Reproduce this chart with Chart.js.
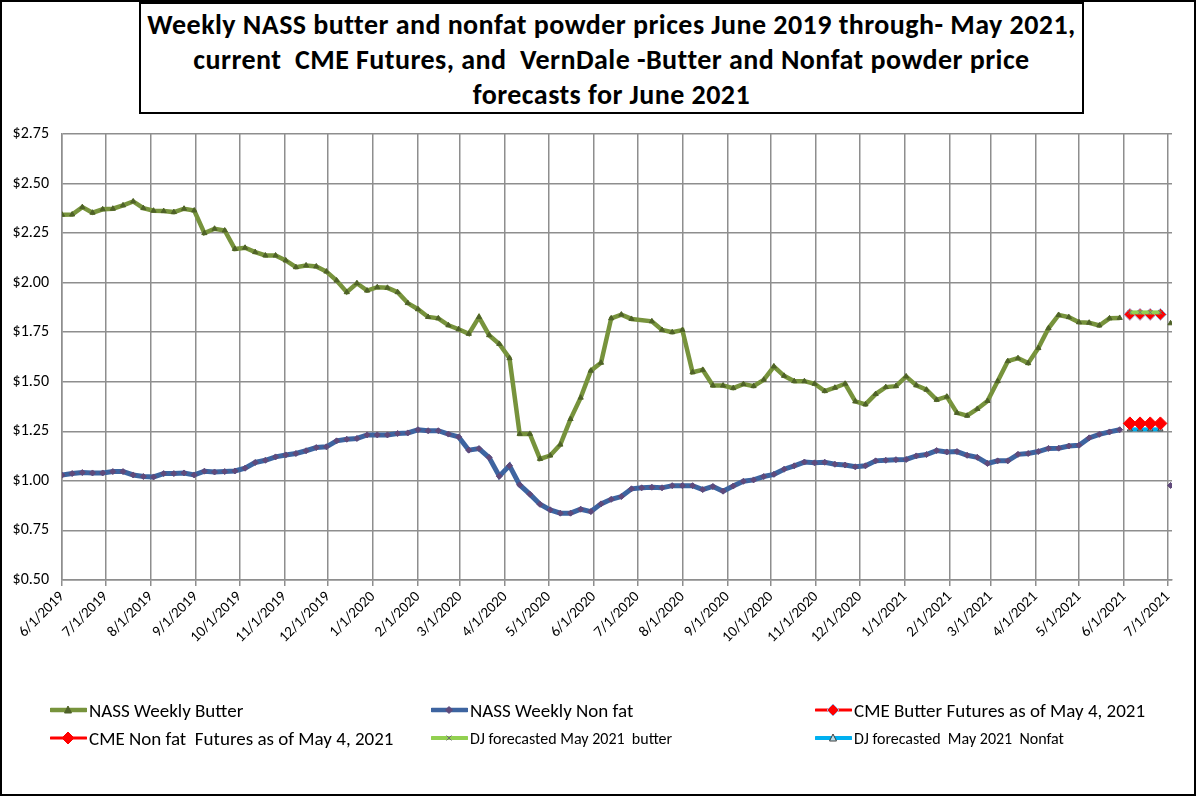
<!DOCTYPE html>
<html>
<head>
<meta charset="utf-8">
<script src="https://cdn.jsdelivr.net/npm/chart.js@4.4.0/dist/chart.umd.min.js"></script>
<style>
  html, body { margin: 0; padding: 0; background: #fff; }
  #frame { position: relative; width: 1196px; height: 796px; overflow: hidden;
           font-family: Carlito, Calibri, Lato, sans-serif; color: #000; }
  #box { position: absolute; left: 0; top: 0; width: 1196px; height: 796px; }
  #border { position: absolute; left: 0; top: 0; width: 1196px; height: 796px;
            box-sizing: border-box; border: 2px solid #000; pointer-events: none; }
  #title { position: absolute; left: 139px; top: 2px; width: 945px; height: 112px;
           box-sizing: border-box; border: 2px solid #000; background: #fff;
           text-align: center; font-weight: bold; font-size: 28px; line-height: 35px;
           letter-spacing: 0.45px; padding-top: 3px; white-space: pre; }
  .leg { position: absolute; display: flex; align-items: center; white-space: pre;
         font-size: 19px; height: 22px; }
  .leg svg { margin-right: 2px; }
  .small { font-size: 16px; }
</style>
</head>
<body>
<div id="frame">
  <div id="box"><canvas id="grafico"></canvas></div>
  <div id="title">Weekly NASS butter and nonfat powder prices June 2019 through- May 2021,
current  CME Futures, and  VernDale -Butter and Nonfat powder price
forecasts for June 2021</div>
  <div id="legend"></div>
  <div id="border"></div>
</div>
<script>
// month labels on the date axis
const monthTicks = ['6/1/2019', '7/1/2019', '8/1/2019', '9/1/2019', '10/1/2019', '11/1/2019',
  '12/1/2019', '1/1/2020', '2/1/2020', '3/1/2020', '4/1/2020', '5/1/2020', '6/1/2020',
  '7/1/2020', '8/1/2020', '9/1/2020', '10/1/2020', '11/1/2020', '12/1/2020', '1/1/2021',
  '2/1/2021', '3/1/2021', '4/1/2021', '5/1/2021', '6/1/2021', '7/1/2021'];

// NASS weekly report dates
const weeks = [
  '2019-06-01', '2019-06-08', '2019-06-15', '2019-06-22', '2019-06-29', '2019-07-06', '2019-07-13',
  '2019-07-20', '2019-07-27', '2019-08-03', '2019-08-10', '2019-08-17', '2019-08-24', '2019-08-31',
  '2019-09-07', '2019-09-14', '2019-09-21', '2019-09-28', '2019-10-05', '2019-10-12', '2019-10-19',
  '2019-10-26', '2019-11-02', '2019-11-09', '2019-11-16', '2019-11-23', '2019-11-30', '2019-12-07',
  '2019-12-14', '2019-12-21', '2019-12-28', '2020-01-04', '2020-01-11', '2020-01-18', '2020-01-25',
  '2020-02-01', '2020-02-08', '2020-02-15', '2020-02-22', '2020-02-29', '2020-03-07', '2020-03-14',
  '2020-03-21', '2020-03-28', '2020-04-04', '2020-04-11', '2020-04-18', '2020-04-25', '2020-05-02',
  '2020-05-09', '2020-05-16', '2020-05-23', '2020-05-30', '2020-06-06', '2020-06-13', '2020-06-20',
  '2020-06-27', '2020-07-04', '2020-07-11', '2020-07-18', '2020-07-25', '2020-08-01', '2020-08-08',
  '2020-08-15', '2020-08-22', '2020-08-29', '2020-09-05', '2020-09-12', '2020-09-19', '2020-09-26',
  '2020-10-03', '2020-10-10', '2020-10-17', '2020-10-24', '2020-10-31', '2020-11-07', '2020-11-14',
  '2020-11-21', '2020-11-28', '2020-12-05', '2020-12-12', '2020-12-19', '2020-12-26', '2021-01-02',
  '2021-01-09', '2021-01-16', '2021-01-23', '2021-01-30', '2021-02-06', '2021-02-13', '2021-02-20',
  '2021-02-27', '2021-03-06', '2021-03-13', '2021-03-20', '2021-03-27', '2021-04-03', '2021-04-10',
  '2021-04-17', '2021-04-24', '2021-05-01', '2021-05-08', '2021-05-15', '2021-05-22', '2021-05-29',
  '2021-07-03'];

const butter = [
  2.343, 2.344, 2.381, 2.353, 2.370, 2.373, 2.390, 2.410, 2.376, 2.363, 2.361, 2.356, 2.373, 2.364,
  2.250, 2.272, 2.263, 2.170, 2.176, 2.154, 2.137, 2.137, 2.112, 2.078, 2.087, 2.082, 2.056, 2.011,
  1.952, 1.997, 1.960, 1.977, 1.974, 1.952, 1.897, 1.866, 1.827, 1.820, 1.785, 1.765, 1.742, 1.826,
  1.735, 1.691, 1.619, 1.237, 1.237, 1.111, 1.128, 1.183, 1.312, 1.420, 1.556, 1.596, 1.820, 1.839,
  1.817, null, 1.805, 1.761, 1.750, 1.761, 1.548, 1.560, 1.481, 1.481, 1.468, 1.488, 1.478, 1.510,
  1.577, 1.530, 1.503, 1.503, 1.490, 1.453, 1.470, 1.490, 1.401, 1.386, 1.438, 1.473, 1.478, 1.527,
  1.482, 1.460, 1.409, 1.425, 1.343, 1.329, 1.363, 1.403, 1.503, 1.604, 1.619, 1.594, 1.670, 1.770,
  1.837, 1.826, 1.800, 1.798, 1.784, 1.820, 1.822,
  1.795];

const nonfat = [
  1.029, 1.037, 1.042, 1.040, 1.040, 1.047, 1.047, 1.030, 1.022, 1.020, 1.037, 1.037, 1.040, 1.030,
  1.049, 1.045, 1.047, 1.050, 1.064, 1.093, 1.104, 1.121, 1.131, 1.138, 1.152, 1.168, 1.172, 1.202,
  1.210, 1.214, 1.232, 1.232, 1.232, 1.239, 1.242, 1.258, 1.253, 1.253, 1.236, 1.222, 1.155, 1.163,
  1.118, 1.024, 1.077, 0.980, 0.933, 0.882, 0.854, 0.837, 0.837, 0.857, 0.845, 0.884, 0.907, 0.921,
  0.960, 0.965, 0.968, 0.965, 0.976, 0.976, 0.976, 0.956, 0.972, 0.948, 0.974, 0.998, 1.005, 1.022,
  1.033, 1.059, 1.076, 1.095, 1.091, 1.094, 1.084, 1.080, 1.071, 1.076, 1.101, 1.104, 1.107, 1.108,
  1.126, 1.133, 1.153, 1.146, 1.148, 1.129, 1.119, 1.088, 1.101, 1.101, 1.134, 1.138, 1.148, 1.164,
  1.165, 1.176, 1.180, 1.217, 1.235, 1.247, 1.258,
  0.977];

// June 2021 futures / forecasts
const futureWeeks = ['2021-06-05', '2021-06-12', '2021-06-19', '2021-06-26'];
const cmeButter = [1.84, 1.84, 1.84, 1.84];
const cmeNonfat = [1.29, 1.29, 1.29, 1.29];
const djButter = [1.85, 1.85, 1.85, 1.85];
const djNonfat = [1.26, 1.26, 1.26, 1.26];

const FONT = 'Carlito, Calibri, Lato, sans-serif';
const DAY0 = Date.UTC(2019, 5, 1);
function isoDay(s) { const [y, m, d] = s.split('-').map(Number); return (Date.UTC(y, m - 1, d) - DAY0) / 864e5; }
function usDay(s) { const [m, d, y] = s.split('/').map(Number); return (Date.UTC(y, m - 1, d) - DAY0) / 864e5; }
// weeks without a value are left out so the line runs straight across them
function pts(xs, ys) {
  return xs.map((x, i) => ({ x: isoDay(x), y: ys[i] })).filter(p => p.y !== null);
}

const datasets = [
  { label: 'NASS Weekly Butter', data: pts(weeks, butter), borderColor: '#77933C', borderWidth: 4.5,
    pointStyle: 'triangle', pointRadius: 3, pointBackgroundColor: '#4F6228', pointBorderColor: '#4F6228',
    pointBorderWidth: 1, order: 3 },
  { label: 'NASS Weekly Non fat', data: pts(weeks, nonfat), borderColor: '#3D64A0', borderWidth: 5,
    pointStyle: 'rectRot', pointRadius: 3, pointBackgroundColor: '#604A7B', pointBorderColor: '#604A7B',
    pointBorderWidth: 1, order: 3 },
  { label: 'CME Butter Futures as of May 4, 2021', data: pts(futureWeeks, cmeButter), borderColor: '#FF0000',
    borderWidth: 3, pointStyle: 'rectRot', pointRadius: 6, pointBackgroundColor: '#FF0000',
    pointBorderColor: '#9DB9E0', pointBorderWidth: 1, order: 2 },
  { label: 'CME Non fat  Futures as of May 4, 2021', data: pts(futureWeeks, cmeNonfat), borderColor: '#FF0000',
    borderWidth: 3, pointStyle: 'rectRot', pointRadius: 6.5, pointBackgroundColor: '#FF0000',
    pointBorderColor: '#FF0000', pointBorderWidth: 1, order: 0 },
  { label: 'DJ forecasted May 2021  butter', data: pts(futureWeeks, djButter), borderColor: '#92D050',
    borderWidth: 4, pointStyle: 'crossRot', pointRadius: 3, pointBorderColor: '#6E6E6E',
    pointBorderWidth: 1, order: 0 },
  { label: 'DJ forecasted  May 2021  Nonfat', data: pts(futureWeeks, djNonfat), borderColor: '#00B0F0',
    borderWidth: 4, pointStyle: 'triangle', pointRadius: 3, pointBackgroundColor: '#B7DDE8',
    pointBorderColor: '#404040', pointBorderWidth: 1, order: 1 }
];

const gridColor = '#8E8E8E';

new Chart(document.getElementById('grafico'), {
  type: 'line',
  data: { datasets: datasets },
  options: {
    responsive: true,
    maintainAspectRatio: false,
    animation: false,
    spanGaps: 20,
    layout: { padding: { left: 0, top: 134, right: 24, bottom: 146 } },
    plugins: { legend: { display: false }, tooltip: { enabled: false } },
    scales: {
      x: {
        type: 'linear', min: 0, max: usDay('7/4/2021'),
        afterBuildTicks: axis => { axis.ticks = monthTicks.map(t => ({ value: usDay(t) })); },
        afterFit: scale => { scale.height = 70; },
        ticks: { autoSkip: false, maxRotation: 45, minRotation: 45, padding: 2, color: '#000',
                 font: { family: FONT, size: 15 }, callback: (v, i) => monthTicks[i] },
        grid: { color: gridColor, lineWidth: 1.5, tickLength: 6 },
        border: { color: gridColor, width: 1.5 }
      },
      y: {
        min: 0.5, max: 2.75,
        afterFit: scale => { scale.width = 62; },
        ticks: { stepSize: 0.25, padding: 13, color: '#000', font: { family: FONT, size: 16 },
                 callback: v => '$' + v.toFixed(2) },
        grid: { color: gridColor, lineWidth: 1.5, drawTicks: false },
        border: { color: gridColor, width: 1.5 }
      }
    }
  }
});

// legend, 3 columns x 2 rows like the spreadsheet
function sample(ds) {
  const c = 18, y = 8;
  let mark = '';
  const fill = ds.pointBackgroundColor || 'none';
  const stroke = ds.pointBorderColor;
  if (ds.pointStyle === 'triangle') {
    mark = `<polygon points="${c},${y - 4} ${c - 3.5},${y + 3} ${c + 3.5},${y + 3}" fill="${fill}" stroke="${stroke}" stroke-width="1"/>`;
  } else if (ds.pointStyle === 'rectRot') {
    const r = ds.pointRadius > 4 ? 6 : 3.5;
    mark = `<polygon points="${c},${y - r} ${c + r},${y} ${c},${y + r} ${c - r},${y}" fill="${fill}" stroke="${stroke}" stroke-width="1"/>`;
  } else if (ds.pointStyle === 'crossRot') {
    mark = `<path d="M${c - 2.5},${y - 2.5}L${c + 2.5},${y + 2.5}M${c + 2.5},${y - 2.5}L${c - 2.5},${y + 2.5}" stroke="${stroke}" stroke-width="1"/>`;
  }
  return `<svg width="37" height="16"><line x1="1" y1="${y}" x2="36" y2="${y}" stroke="${ds.borderColor}" stroke-width="${Math.min(ds.borderWidth, 4.5)}" stroke-linecap="round"/>${mark}</svg>`;
}
const legendPos = [[50, 699], [431, 699], [815, 699], [50, 727], [431, 727], [815, 727]];
document.getElementById('legend').innerHTML = datasets.map((ds, i) =>
  `<div class="leg${i >= 4 ? ' small' : ''}" style="left:${legendPos[i][0]}px;top:${legendPos[i][1]}px">${sample(ds)}<span>${ds.label}</span></div>`
).join('');
</script>
</body>
</html>
